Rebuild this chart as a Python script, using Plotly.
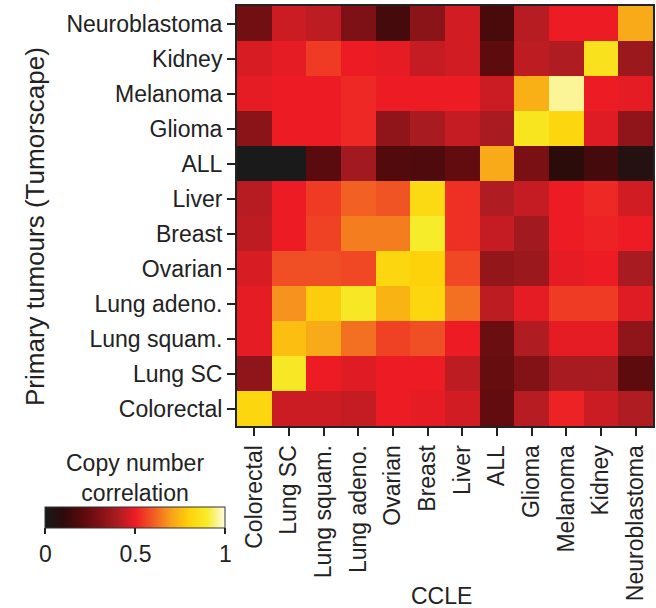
import plotly.graph_objects as go

# Rows (Tumorscape primary tumours), top to bottom
rows = ["Neuroblastoma", "Kidney", "Melanoma", "Glioma", "ALL", "Liver",
        "Breast", "Ovarian", "Lung adeno.", "Lung squam.", "Lung SC", "Colorectal"]
# Columns (CCLE), left to right
cols = ["Colorectal", "Lung SC", "Lung squam.", "Lung adeno.", "Ovarian", "Breast",
        "Liver", "ALL", "Glioma", "Melanoma", "Kidney", "Neuroblastoma"]

neuroblastoma = [0.27, 0.45, 0.43, 0.30, 0.16, 0.33, 0.46, 0.17, 0.42, 0.50, 0.50, 0.72]
kidney        = [0.47, 0.49, 0.55, 0.50, 0.49, 0.44, 0.46, 0.22, 0.43, 0.41, 0.86, 0.37]
melanoma      = [0.49, 0.50, 0.50, 0.52, 0.50, 0.50, 0.50, 0.45, 0.73, 0.96, 0.50, 0.49]
glioma        = [0.33, 0.50, 0.50, 0.52, 0.34, 0.40, 0.44, 0.40, 0.87, 0.82, 0.48, 0.34]
all_row       = [0.00, 0.00, 0.21, 0.38, 0.19, 0.18, 0.23, 0.72, 0.29, 0.10, 0.16, 0.06]
liver         = [0.42, 0.50, 0.55, 0.61, 0.59, 0.83, 0.53, 0.41, 0.44, 0.50, 0.52, 0.46]
breast        = [0.43, 0.50, 0.56, 0.65, 0.65, 0.90, 0.53, 0.44, 0.38, 0.50, 0.51, 0.50]
ovarian       = [0.47, 0.58, 0.58, 0.57, 0.82, 0.80, 0.57, 0.35, 0.37, 0.49, 0.50, 0.40]
lung_adeno    = [0.49, 0.68, 0.79, 0.88, 0.74, 0.82, 0.63, 0.43, 0.49, 0.55, 0.55, 0.48]
lung_squam    = [0.49, 0.76, 0.72, 0.63, 0.56, 0.58, 0.50, 0.25, 0.41, 0.49, 0.49, 0.34]
lung_sc       = [0.34, 0.88, 0.50, 0.48, 0.50, 0.50, 0.43, 0.24, 0.31, 0.40, 0.40, 0.22]
colorectal    = [0.82, 0.45, 0.45, 0.44, 0.50, 0.49, 0.46, 0.23, 0.42, 0.51, 0.45, 0.41]

z = [neuroblastoma, kidney, melanoma, glioma, all_row, liver, breast, ovarian,
     lung_adeno, lung_squam, lung_sc, colorectal]

cbar_ticks = [0, 0.5, 1]
cbar_ticktext = ["0", "0.5", "1"]

colorscale = [
    [0.0, "#1a1a1a"],
    [0.1, "#2c0b0b"],
    [0.2, "#560a0c"],
    [0.3, "#7e1115"],
    [0.4, "#a81c21"],
    [0.5, "#ED1C24"],
    [0.6, "#F15A24"],
    [0.7, "#F7A01B"],
    [0.8, "#FDD20A"],
    [0.9, "#F7EC2A"],
    [1.0, "#FFFBE0"],
]

FONT = "Liberation Sans, Arial, Helvetica, sans-serif"
TXT = "#222222"

# plot area in pixels
L, R, T, B = 237, 1, 6, 182
W, H = 656, 608
PW = W - L - R
PH = H - T - B

def px_x(x):
    return (x - L) / PW

def px_y(y):
    return (H - B - y) / PH

fig = go.Figure(go.Heatmap(
    z=z, x=cols, y=rows,
    zmin=0, zmax=1,
    colorscale=colorscale,
    colorbar=dict(
        orientation="h",
        thickness=21, thicknessmode="pixels",
        len=180, lenmode="pixels",
        x=px_x(135), xanchor="center", xpad=0,
        y=px_y(507), yanchor="top", ypad=0,
        tickvals=cbar_ticks, ticktext=cbar_ticktext,
        ticks="outside", ticklen=6, tickwidth=1.5, tickcolor=TXT,
        tickfont=dict(family=FONT, size=23, color=TXT),
        outlinewidth=1, outlinecolor="#333333",
    ),
    hoverinfo="x+y+z",
))

fig.update_layout(
    width=W, height=H,
    margin=dict(l=L, r=R, t=T, b=B),
    paper_bgcolor="white", plot_bgcolor="white",
    font=dict(family=FONT, size=23, color=TXT),
    xaxis=dict(
        tickangle=-90, ticks="outside", ticklen=8, tickwidth=2, tickcolor=TXT,
        showline=True, linewidth=2, linecolor=TXT, mirror=True,
        tickfont=dict(family=FONT, size=23, color=TXT),
        showgrid=False, zeroline=False,
    ),
    yaxis=dict(
        autorange="reversed", ticks="outside", ticklen=8, tickwidth=2, tickcolor=TXT,
        showline=True, linewidth=2, linecolor=TXT, mirror=True,
        tickfont=dict(family=FONT, size=23, color=TXT),
        showgrid=False, zeroline=False,
    ),
    annotations=[
        dict(text="Primary tumours (Tumorscape)", textangle=-90,
             xref="paper", yref="paper", x=px_x(34), y=px_y(226),
             xanchor="center", yanchor="middle", showarrow=False,
             font=dict(family=FONT, size=26, color=TXT)),
        dict(text="CCLE", xref="paper", yref="paper", x=px_x(442), y=px_y(596),
             xanchor="center", yanchor="middle", showarrow=False,
             font=dict(family=FONT, size=23, color=TXT)),
        dict(text="Copy number<br>correlation", xref="paper", yref="paper",
             x=px_x(135), y=px_y(478), xanchor="center", yanchor="middle",
             showarrow=False, align="center",
             font=dict(family=FONT, size=23, color=TXT)),
    ],
)

fig.write_html("out.html")
